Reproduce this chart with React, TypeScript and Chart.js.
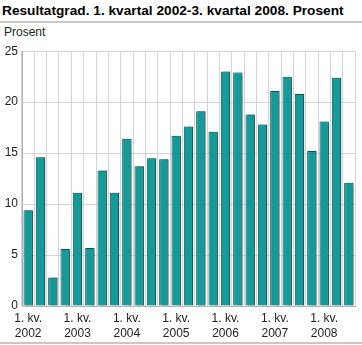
import React, { useEffect, useRef } from "react";
import { Chart, registerables } from "chart.js";

Chart.register(...registerables);

const years = ["2002", "2003", "2004", "2005", "2006", "2007", "2008"];
const quarterLabel = "1. kv.";
const values = [
  9.4, 14.6, 2.8, 5.6,
  11.1, 5.7, 13.3, 11.1,
  16.4, 13.7, 14.5, 14.4,
  16.7, 17.6, 19.1, 17.1,
  23.0, 22.9, 18.8, 17.8,
  21.1, 22.5, 20.8, 15.2,
  18.1, 22.4, 12.1,
];
const yTicks = [0, 5, 10, 15, 20, 25];
const titleText = "Resultatgrad. 1. kvartal 2002-3. kvartal 2008. Prosent";
const unitText = "Prosent";

const labels: (string | string[])[] = values.map((_, i) =>
  i % 4 === 0 ? [quarterLabel, years[i / 4]] : ""
);

const FONT = "'Liberation Sans', Arial, sans-serif";

const shadowPlugin = {
  id: "barShadow",
  beforeDatasetsDraw(chart: any) {
    const ctx = chart.ctx;
    ctx.save();
    ctx.shadowColor = "rgba(0,0,0,0.35)";
    ctx.shadowOffsetX = 2;
    ctx.shadowOffsetY = 0;
    ctx.shadowBlur = 1;
  },
  afterDatasetsDraw(chart: any) {
    chart.ctx.restore();
  },
};

export default function App() {
  const ref = useRef<HTMLCanvasElement>(null);
  useEffect(() => {
    if (!ref.current) return;
    const chart = new Chart(ref.current, {
      type: "bar",
      data: {
        labels,
        datasets: [
          {
            data: values,
            backgroundColor: "#149a98",
            borderColor: "#0b5654",
            borderWidth: 1,
            borderSkipped: "bottom",
            categoryPercentage: 1,
            barPercentage: 0.76,
          },
        ],
      },
      options: {
        animation: false,
        responsive: false,
        maintainAspectRatio: false,
        layout: { padding: { top: 8, right: 7, left: 0, bottom: 0 } },
        plugins: { legend: { display: false }, tooltip: { enabled: false } },
        scales: {
          x: {
            grid: { color: "#d2d3da", lineWidth: 1, offset: true, drawTicks: false },
            border: { color: "#b0b0b8" },
            ticks: {
              autoSkip: false,
              maxRotation: 0,
              minRotation: 0,
              color: "#222",
              font: { family: FONT, size: 12, lineHeight: 1.25 },
              padding: 5,
            },
            afterFit: (s: any) => {
              s.height = 37;
            },
          },
          y: {
            min: 0,
            max: 25,
            afterBuildTicks: (s: any) => {
              s.ticks = yTicks.map((v) => ({ value: v }));
            },
            grid: { color: "#d2d3da", lineWidth: 1, drawTicks: false },
            border: { color: "#b0b0b8" },
            ticks: {
              color: "#222",
              font: { family: FONT, size: 12 },
              padding: 4,
            },
            afterFit: (s: any) => {
              s.width = 22;
            },
          },
        },
      },
      plugins: [shadowPlugin],
    });
    return () => chart.destroy();
  }, []);

  return (
    <div
      style={{
        position: "fixed",
        left: 0,
        top: 0,
        width: 362,
        height: 345,
        background: "#fff",
        fontFamily: FONT,
        overflow: "hidden",
      }}
    >
      <div
        style={{
          position: "absolute",
          left: 2,
          top: 3,
          fontSize: 13.7,
          fontWeight: "bold",
          color: "#000",
          whiteSpace: "nowrap",
        }}
      >
        {titleText}
      </div>
      <div
        style={{
          position: "absolute",
          left: 0,
          top: 21,
          width: 362,
          height: 2,
          background: "#c8c8c8",
        }}
      />
      <div
        style={{
          position: "absolute",
          left: 4,
          top: 25,
          fontSize: 12,
          color: "#222",
        }}
      >
        {unitText}
      </div>
      <canvas
        ref={ref}
        width={362}
        height={303}
        style={{ position: "absolute", left: 0, top: 40, width: 362, height: 303 }}
      />
      <div
        style={{
          position: "absolute",
          left: 0,
          top: 342,
          width: 362,
          height: 2,
          background: "#c8c8c8",
        }}
      />
    </div>
  );
}
